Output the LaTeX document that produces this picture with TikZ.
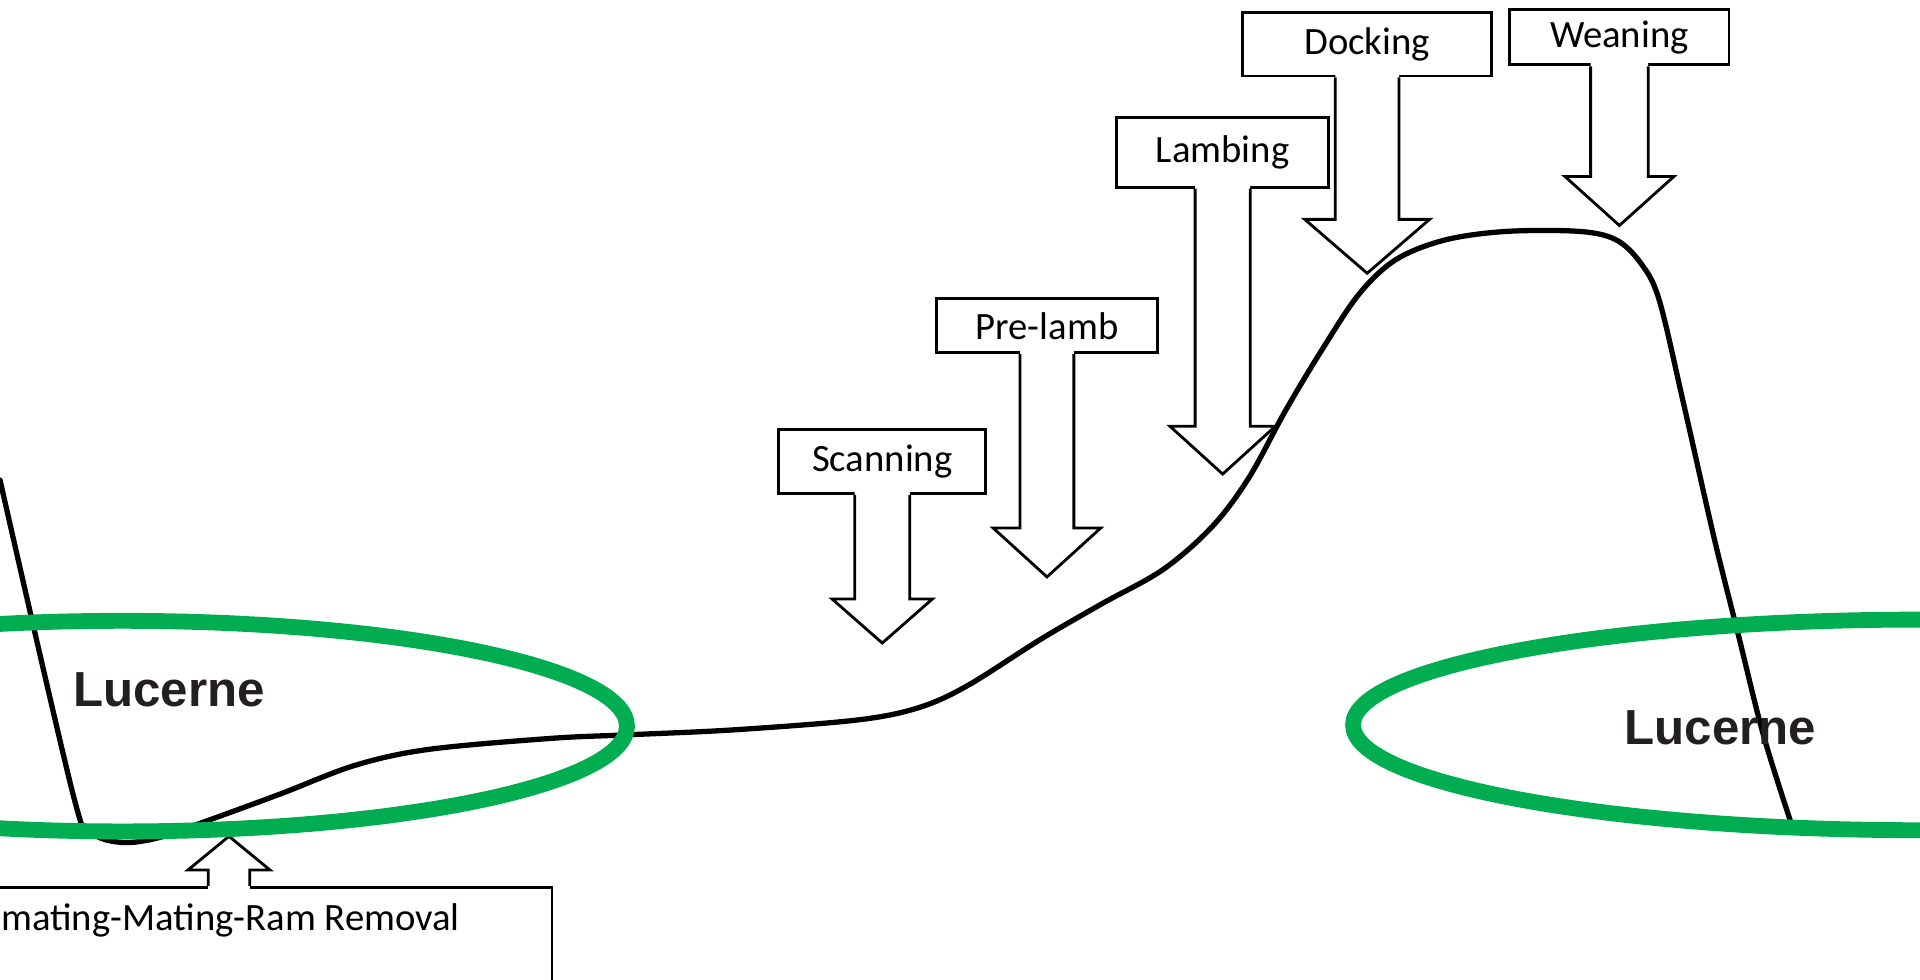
\documentclass[tikz,border=0pt]{standalone}
\usepackage{fontspec}
\setmainfont{Carlito}
\newfontfamily\arialfont{Liberation Sans}
\usetikzlibrary{calc}
\definecolor{lucgreen}{RGB}{0,173,80}
\definecolor{lucgray}{RGB}{35,31,32}
\newcommand{\upx}{0.012245cm}
% #1 node, #2 shaft half width, #3 shaft length, #4 head half width, #5 head length
\newcommand{\stagearrow}[5]{%
  \fill[white] ($(#1.south)+(-#2,-3)$) -- ($(#1.south)+(-#2,#3)$) -- ($(#1.south)+(-#4,#3)$)
    -- ($(#1.south)+(0,#3+#5)$) -- ($(#1.south)+(#4,#3)$) -- ($(#1.south)+(#2,#3)$)
    -- ($(#1.south)+(#2,-3)$) -- cycle;
  \draw[blockarrow] ($(#1.south)+(-#2,0)$) -- ($(#1.south)+(-#2,#3)$) -- ($(#1.south)+(-#4,#3)$)
    -- ($(#1.south)+(0,#3+#5)$) -- ($(#1.south)+(#4,#3)$) -- ($(#1.south)+(#2,#3)$)
    -- ($(#1.south)+(#2,0)$);}
\begin{document}
\begin{tikzpicture}[x=0.012245cm, y=-0.012245cm,
  stagebox/.style={draw, line width=0.8pt, fill=white, inner sep=0pt,
    font=\fontsize{11}{13}\selectfont},
  blockarrow/.style={line width=0.8pt, line join=miter},
  curveline/.style={line width=1.5pt, line cap=round, line join=round},
  lucring/.style={draw=lucgreen, line width=4.5pt},
  luclabel/.style={font=\arialfont\bfseries\fontsize{14}{16}\selectfont, text=lucgray, inner sep=0pt},
  matelabel/.style={font=\fontsize{11}{13}\selectfont, inner sep=0pt}]
\useasboundingbox (0,0) rectangle (1568,800);
\clip (0,0) rectangle (1568,800);
\fill[white] (0,0) rectangle (1568,800);

% growth curve
\draw[curveline] plot[smooth, tension=0.55] coordinates {
  (0,392) (60,650) (75,680) (100,688) (130,684) (170,670) (230,648) (290,625)
  (350,612) (450,603) (515,600) (600,596) (700,588) (750,578) (790,560)
  (850,522) (900,493) (950,465) (990,430) (1020,390) (1050,335) (1080,285)
  (1110,240) (1140,212) (1180,196) (1230,189) (1290,189) (1320,196)
  (1340,215) (1355,245) (1375,330) (1400,440) (1420,520) (1440,600) (1462,670)};

% stage boxes
\node[stagebox, minimum width=169*\upx, minimum height=52*\upx] (scan) at (720.5,377) {Scanning};
\stagearrow{scan}{22.5}{85}{41}{36}
\node[stagebox, minimum width=180*\upx, minimum height=44*\upx] (prelamb) at (855,266) {Pre-lamb};
\stagearrow{prelamb}{22}{142}{44}{40}
\node[stagebox, minimum width=173*\upx, minimum height=57*\upx] (lambing) at (998.5,124.5) {Lambing};
\stagearrow{lambing}{22.5}{194}{43}{39}
\node[stagebox, minimum width=203*\upx, minimum height=52*\upx] (docking) at (1116.5,36) {Docking};
\stagearrow{docking}{26}{116}{51}{44}
\node[stagebox, minimum width=179*\upx, minimum height=45*\upx] (weaning) at (1322.5,30.5) {Weaning};
\stagearrow{weaning}{23.5}{90}{44.5}{40}

% mating box with upward arrow
\node[stagebox, anchor=north east, minimum width=500*\upx, minimum height=120*\upx] (mating) at (452,723.5) {};
\node[matelabel, anchor=base east] (matingtxt) at (376,759.5) {mating-Mating-Ram Removal};
\coordinate (matebase) at (187,723.5);
\fill[white] ($(matebase)+(-17,3)$) -- ($(matebase)+(-17,-13)$) -- ($(matebase)+(-33.5,-13)$)
  -- ($(matebase)+(0,-40.5)$) -- ($(matebase)+(33.5,-13)$) -- ($(matebase)+(17,-13)$)
  -- ($(matebase)+(17,3)$) -- cycle;
\draw[blockarrow] ($(matebase)+(-17,0)$) -- ($(matebase)+(-17,-13)$) -- ($(matebase)+(-33.5,-13)$)
  -- ($(matebase)+(0,-40.5)$) -- ($(matebase)+(33.5,-13)$) -- ($(matebase)+(17,-13)$)
  -- ($(matebase)+(17,0)$);

% lucerne rings
\draw[lucring] (100,593) ellipse [x radius=412, y radius=86];
\draw[lucring] (1568,592) ellipse [x radius=463, y radius=86];
\node[luclabel] (lucleft) at (138,563) {Lucerne};
\node[luclabel] (lucright) at (1405,594) {Lucerne};
\end{tikzpicture}
\end{document}
